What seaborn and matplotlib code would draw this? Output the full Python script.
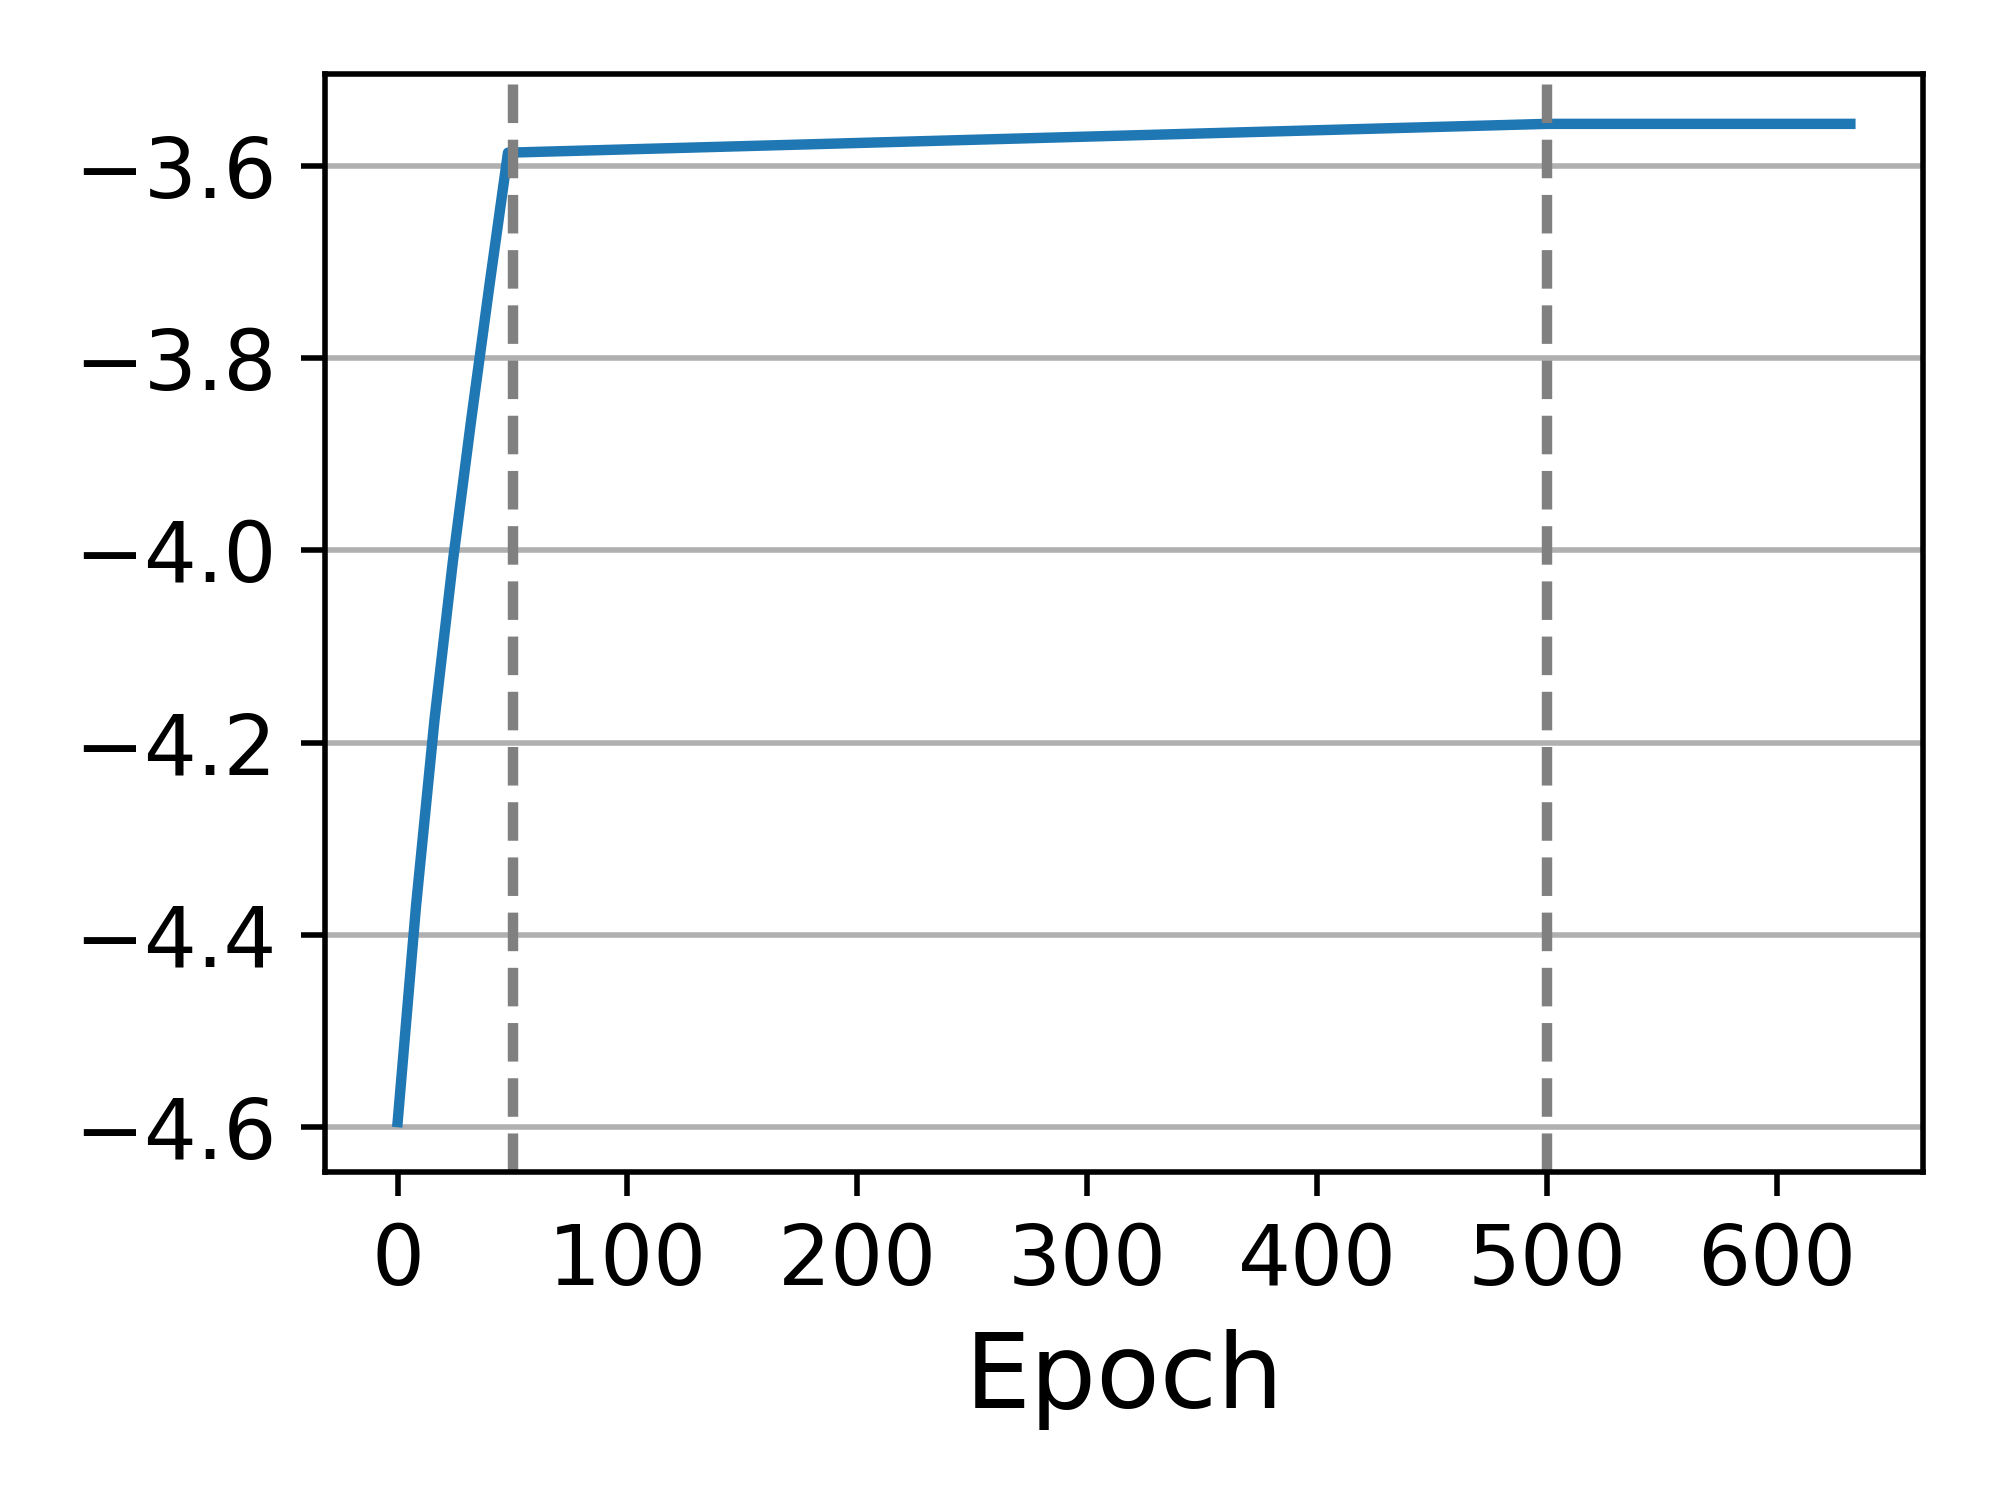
import matplotlib
matplotlib.use("Agg")
import matplotlib.pyplot as plt
import seaborn as sns
import pandas as pd

# values
epochs = [0, 8, 16, 24, 32, 40, 48, 500, 632]
values = [-4.595, -4.37, -4.177, -4.012, -3.864, -3.723, -3.586, -3.556, -3.556]
marker_epochs = [50, 500]
y_ticks = [-4.6, -4.4, -4.2, -4.0, -3.8, -3.6]
x_ticks = [0, 100, 200, 300, 400, 500, 600]

df = pd.DataFrame({"Epoch": epochs, "value": values})

sns.set_style("ticks")
plt.rcParams['font.family'] = ['DejaVu Sans']
plt.rcParams['text.color'] = 'black'
plt.rcParams['axes.labelcolor'] = 'black'
plt.rcParams['xtick.color'] = 'black'
plt.rcParams['ytick.color'] = 'black'

fig, ax = plt.subplots(figsize=(4, 3), dpi=500)
fig.subplots_adjust(left=0.1625, right=0.9615, bottom=0.2187, top=0.9507)

sns.lineplot(data=df, x="Epoch", y="value", color="#1f77b4", linewidth=1.5,
             solid_capstyle="projecting", ax=ax)

for e in marker_epochs:
    ax.axvline(e, color="gray", linestyle="--", linewidth=1.5)

ax.set_xticks(x_ticks)
ax.set_yticks(y_ticks)
ax.yaxis.grid(True, color="#b0b0b0", linewidth=0.8)
ax.set_axisbelow(True)
ax.tick_params(labelsize=12, width=0.8, length=3.5, color="black", labelcolor="black")
for s in ax.spines.values():
    s.set_visible(True)
    s.set_color("black")
    s.set_linewidth(0.8)

ax.set_xlabel("Epoch", fontsize=15, color="black")
ax.set_ylabel("")

fig.savefig("out.png", dpi=500)
